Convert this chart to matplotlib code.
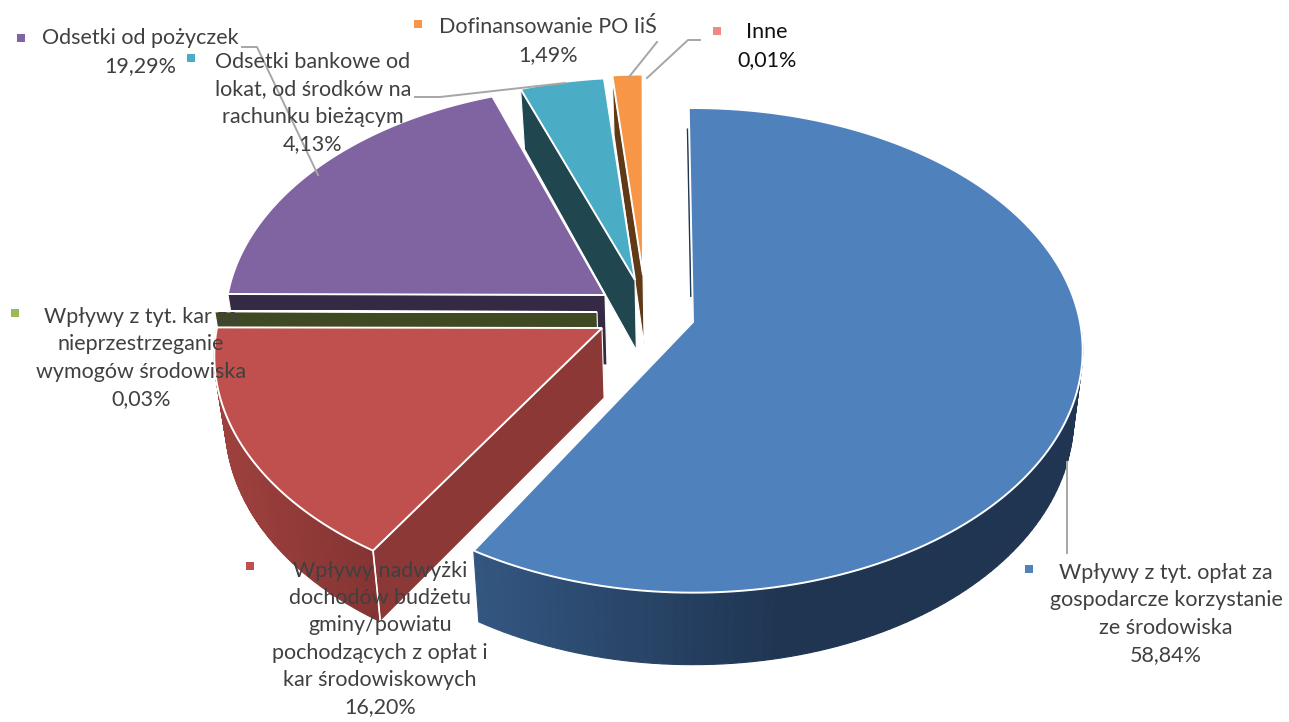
# Nodige imports
import numpy as np
import matplotlib
matplotlib.use('Agg')
import matplotlib.pyplot as plt
from matplotlib.colors import to_rgb

plt.rcParams['font.family'] = ['Lato', 'DejaVu Sans']

# Data
categories = ['Wpływy z tyt. opłat za\ngospodarcze korzystanie\nze środowiska',
              'Wpływy nadwyżki\ndochodów budżetu\ngminy/powiatu\npochodzących z opłat i\nkar środowiskowych',
              'Wpływy z tyt. kar za\nnieprzestrzeganie\nwymogów środowiska',
              'Odsetki od pożyczek',
              'Odsetki bankowe od\nlokat, od środków na\nrachunku bieżącym',
              'Dofinansowanie PO IiŚ',
              'Inne']
values = [58.84, 16.20, 0.03, 19.29, 4.13, 1.49, 0.01]

# Stijl per schijf
top_colors = ['#4f81bd', '#c0504d', '#9bbb59', '#8064a2', '#4bacc6', '#f79646', '#f08a88']
wall_colors = ['#1f3552', '#8c3836', '#3f4a22', '#352a44', '#20474f', '#603a17', '#8c3836']
shifts = [(1, 0), (-90, 6), (-95, -10), (-87, -27), (-57, -42), (-49, -47), (-49, -47)]
scales = [1.0, 0.995, 0.988, 0.975, 0.94, 0.93, 0.93]
# kleine correctie van de hoeken (graden) door het perspectief
angle_adj = [(-0.7, -1.2), (0.6, 0), (0, 0), (0, 1.0), (0, 0), (0, 0), (0, 0)]
draw_order = [0, 5, 4, 3, 2, 1]

# Plaats van de labels (midden van tekst, marker)
label_pos = [(1166, 614), (380, 639), (141, 358), (140, 52), (313, 103), (548, 41), (767, 46)]
marker_pos = [(1029, 569), (250, 566), (15, 313), (21, 38), (191, 58), (418, 24), (717, 31)]
label_colors = ['#404040'] * 6 + ['#111111']

# Geometrie van de perspectief-ellips
cx, cy = 692, 322
a, b, k = 387, 239, 0.117
side = 0.977


def project(th, r=1.0):
    u = r * np.sin(th)
    v = r * np.cos(th)
    w = 1 + k * v
    return a * u / w, -b * v / w


def lower(x, y, th):
    # Onderkant van de rand: iets naar binnen en naar onder
    depth = 66 - 6 * np.cos(th)
    return cx + (x - cx) * side, y + depth


fig = plt.figure(figsize=(12.89, 7.22), dpi=100)
ax = fig.add_axes([0, 0, 1, 1])
ax.set_xlim(0, 1289)
ax.set_ylim(722, 0)
ax.axis('off')

# Hoeken berekenen uit de waarden
edges = np.radians(np.cumsum([0] + values) * 3.6)

for i in draw_order:
    th0 = edges[i] + np.radians(angle_adj[i][0])
    th1 = edges[i + 1] + np.radians(angle_adj[i][1])
    dx, dy = shifts[i]
    ox, oy = cx + dx, cy + dy
    ts = np.linspace(th0, th1, 160)
    px, py = project(ts, scales[i])
    px = px + ox
    py = py + oy

    # Buitenrand, enkel zichtbaar aan de voorkant
    if i == 0:
        wall = ts >= np.pi / 2
    elif i == 1:
        wall = ts >= 0
    else:
        wall = None
    if wall is not None:
        wx, wy, wt = px[wall], py[wall], ts[wall]
        lx, ly = lower(wx, wy, wt)
        for j in range(len(wx) - 1):
            if i == 0:
                f = np.clip((790 - wx[j]) / 310, 0, 1)
                col = tuple(np.array(to_rgb('#1f3552')) + f * (np.array(to_rgb('#335680')) - np.array(to_rgb('#1f3552'))))
            else:
                f = np.clip((372 - wx[j]) / 155, 0, 1)
                col = tuple(np.array(to_rgb('#853433')) + f * (np.array(to_rgb('#9e413e')) - np.array(to_rgb('#853433'))))
            ax.fill([wx[j], wx[j + 1], lx[j + 1], lx[j]], [wy[j], wy[j + 1], ly[j + 1], ly[j]],
                    color=col, lw=0.8, zorder=2 + draw_order.index(i))

    # Binnenwand van de snede
    if i != 0:
        ex, ey = px[0], py[0]
        lex, ley = lower(ex, ey, th0)
        lax, lay = cx + (ox - cx) * side, oy + 70
        ax.fill([ox, ex, lex, lax], [oy, ey, ley, lay], facecolor=wall_colors[i],
                edgecolor='white', lw=0.8, zorder=2 + draw_order.index(i))
    else:
        # dun donker randje links van de blauwe schijf
        rr = np.array([0.11, 0.89])
        sx, sy = project(np.radians(angle_adj[0][0]), rr)
        ax.plot(ox + sx - 1.5, oy + sy, color=wall_colors[0], lw=1.3, zorder=2)

    # Bovenvlak
    ax.fill(np.r_[ox, px], np.r_[oy, py], facecolor=top_colors[i], edgecolor='white',
            lw=1.4, joinstyle='miter', zorder=2 + draw_order.index(i))

    # Witte lijn op de hoek van de rode schijf
    if i == 1:
        lex, ley = lower(px[0], py[0], th0)
        ax.plot([px[0], lex], [py[0], ley], color='white', lw=1.2, zorder=3 + draw_order.index(i))

# Verbindingslijnen
leaders = [([1067, 1067], [462, 553]),
           ([242, 257, 318], [47, 47, 175]),
           ([415, 440, 565], [97, 97, 83]),
           ([629, 657], [77, 42]),
           ([647, 688, 700], [78, 40, 40])]
for xs, ys in leaders:
    ax.plot(xs, ys, color='#a6a6a6', lw=1.4, zorder=20)

# Labels en markers
for name, val, pos, mpos, col, tcol in zip(categories, values, label_pos, marker_pos, label_colors, top_colors):
    txt = name + '\n' + '{:.2f}%'.format(val).replace('.', ',')
    ax.text(pos[0], pos[1], txt, ha='center', va='center', fontsize=15.5, color=col,
            linespacing=1.46, zorder=30)
    ax.scatter([mpos[0]], [mpos[1]], marker='s', s=36, color=tcol, lw=0, zorder=30)

fig.savefig('out.png', dpi=100)
